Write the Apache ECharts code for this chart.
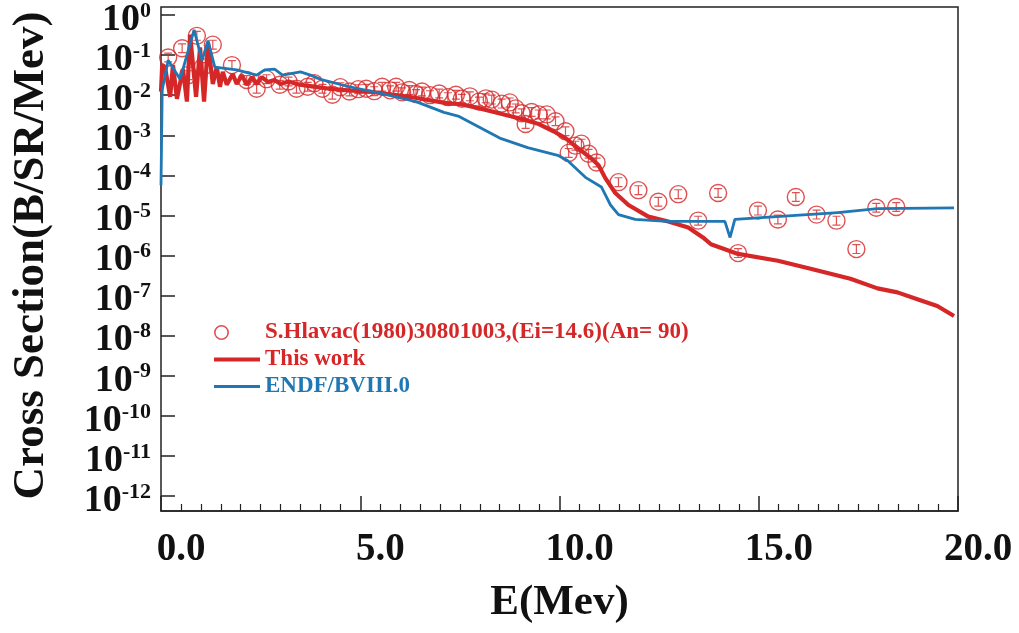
<!DOCTYPE html>
<html>
<head>
<meta charset="utf-8">
<script src="https://cdn.jsdelivr.net/npm/echarts@6/dist/echarts.min.js"></script>
<style>
html,body{margin:0;padding:0;background:#fff;}
#chart{width:1019px;height:633px;}
</style>
</head>
<body>
<div id="chart"></div>
<script>
// ---- Data (energies in MeV, values as log10 of cross section) ----
var expE = [0.18,0.53,0.9,1.3,0.68,1.05,1.78,2.15,2.4,2.65,2.98,3.2,3.4,3.68,3.85,4.05,4.3,4.5,4.73,4.95,5.15,5.35,5.55,5.75,5.9,6.05,6.23,6.4,6.55,6.75,6.98,7.2,7.4,7.55,7.75,7.98,8.15,8.3,8.55,8.75,8.9,9.05,9.15,9.3,9.48,9.68,9.9,10.15,10.23,10.4,10.55,10.73,10.93,
  11.48,11.98,12.48,12.98,13.48,13.98,14.48,14.98,15.48,15.93,16.45,16.95,17.45,17.95,18.45];
var expLog = [-1.06,-0.83,-0.52,-0.74,-1.50,-1.30,-1.25,-1.62,-1.84,-1.60,-1.74,-1.66,-1.84,-1.79,-1.70,-1.84,-1.99,-1.80,-1.91,-1.85,-1.84,-1.90,-1.79,-1.88,-1.79,-1.93,-1.87,-1.97,-1.91,-2.00,-1.96,-2.05,-1.99,-2.09,-2.03,-2.16,-2.08,-2.11,-2.21,-2.18,-2.33,-2.45,-2.72,-2.42,-2.48,-2.48,-2.65,-2.90,-3.44,-3.26,-3.21,-3.46,-3.68,
  -4.17,-4.37,-4.66,-4.47,-5.13,-4.44,-5.94,-4.88,-5.10,-4.54,-4.98,-5.13,-5.84,-4.81,-4.79];

var workE = [0.0,0.03,0.1,0.23,0.3,0.4,0.55,0.65,0.73,0.88,0.98,1.08,1.18,1.3,1.4,1.48,1.55,1.65,1.8,1.9,2.03,2.15,2.28,2.4,2.53,2.68,2.85,3.0,3.2,3.48,3.8,4.23,4.7,5.23,5.7,6.23,6.7,7.23,7.5,8.0,8.48,9.0,9.48,9.85,10.15,10.55,10.8,10.98,11.15,11.4,11.73,12.23,12.73,13.23,13.6,13.8,14.48,15.48,16.3,17.3,17.98,18.48,18.98,19.48,19.9];
var workLog = [-1.91,-1.25,-1.30,-2.04,-1.25,-2.09,-1.35,-2.16,-0.49,-2.04,-0.81,-2.16,-0.69,-1.72,-1.30,-1.79,-1.42,-1.74,-1.47,-1.72,-1.50,-1.74,-1.55,-1.72,-1.55,-1.67,-1.62,-1.72,-1.66,-1.74,-1.78,-1.84,-1.88,-1.91,-1.97,-2.04,-2.12,-2.21,-2.22,-2.33,-2.45,-2.58,-2.72,-2.90,-3.07,-3.39,-3.58,-3.75,-4.07,-4.44,-4.74,-5.03,-5.15,-5.30,-5.55,-5.72,-5.96,-6.13,-6.33,-6.58,-6.82,-6.92,-7.09,-7.26,-7.51];

var endfE = [0.0,0.03,0.18,0.48,0.83,1.03,1.18,1.35,1.4,1.9,2.4,2.6,2.85,3.05,3.5,3.75,4.05,4.73,5.55,6.4,7.1,7.48,8.5,9.2,9.98,10.2,10.65,11.05,11.28,11.48,11.9,12.7,14.15,14.28,14.4,16.98,17.98,19.9];
var endfLog = [-4.25,-1.87,-1.13,-1.60,-0.37,-1.13,-0.64,-1.30,-1.30,-1.37,-1.50,-1.37,-1.35,-1.50,-1.42,-1.50,-1.62,-1.79,-1.96,-2.16,-2.43,-2.53,-3.07,-3.31,-3.51,-3.63,-4.05,-4.29,-4.74,-4.98,-5.10,-5.15,-5.15,-5.55,-5.10,-4.93,-4.83,-4.81];

var xTicks = [0, 5, 10, 15, 20];
var yExponents = [0,-1,-2,-3,-4,-5,-6,-7,-8,-9,-10,-11,-12];
var legendNames = ['S.Hlavac(1980)30801003,(Ei=14.6)(An= 90)', 'This work', 'ENDF/BVIII.0'];

function pts(E, L) { return E.map(function (e, i) { return [e, Math.pow(10, L[i])]; }); }

var RED = '#d62728', BLUE = '#1f77b4';
var FONT = '"Liberation Serif", "Times New Roman", serif';

var chart = echarts.init(document.getElementById('chart'), null, {renderer: 'canvas'});
var ringIcon = 'path://M0,7.5A7.5,7.5 0 1,1 15,7.5A7.5,7.5 0 1,1 0,7.5Z M1.6,7.5A5.9,5.9 0 1,0 13.4,7.5A5.9,5.9 0 1,0 1.6,7.5Z M46,7.5h0.01v0.01h-0.01Z';
var ibeam = 'path://M0,0H8V1.2H4.6V8.8H8V10H0V8.8H3.4V1.2H0Z';
var yMinExp = yExponents[yExponents.length - 1], yMaxExp = yExponents[0];

chart.setOption({
  animation: false,
  backgroundColor: '#fff',
  grid: [
    {left: 161, right: 61, top: 7, bottom: 122, show: true, borderColor: '#222', borderWidth: 1.5},
    {left: 161, right: 61, top: 7, bottom: 137, show: false}
  ],
  legend: {
    orient: 'vertical', left: 209, top: 316, itemWidth: 46, itemHeight: 15, itemGap: 4,
    textStyle: {fontFamily: FONT, fontWeight: 'bold', fontSize: 23, lineHeight: 23},
    data: [
      {name: legendNames[0], icon: ringIcon, textStyle: {color: RED}, itemStyle: {color: RED, borderWidth: 0}},
      {name: legendNames[1], icon: 'path://M0,0H46V4.2H0Z', textStyle: {color: RED}, itemStyle: {color: RED}},
      {name: legendNames[2], icon: 'path://M0,0H46V2.8H0Z', textStyle: {color: BLUE}, itemStyle: {color: BLUE}}
    ]
  },
  xAxis: [{
    gridIndex: 0, type: 'value', min: xTicks[0], max: xTicks[xTicks.length - 1], interval: 5,
    name: 'E(Mev)', nameLocation: 'middle', nameGap: 70,
    nameTextStyle: {fontFamily: FONT, fontWeight: 'bold', fontSize: 43, color: '#111'},
    axisLine: {lineStyle: {color: '#222', width: 1.5}},
    axisTick: {inside: true, length: 15, lineStyle: {color: '#222', width: 1.5}},
    minorTick: {show: true, splitNumber: 10, length: 7, lineStyle: {color: '#222', width: 1.2}},
    splitLine: {show: false},
    axisLabel: {margin: 19, padding: [0, 0, 0, 40], fontFamily: FONT, fontWeight: 'bold', fontSize: 39, color: '#111',
      formatter: function (v) { return v.toFixed(1); }}
  }, {
    gridIndex: 1, type: 'value', min: xTicks[0], max: xTicks[xTicks.length - 1], show: false
  }],
  yAxis: [{
    gridIndex: 0, type: 'value', min: 0, max: 1, show: false
  }, {
    gridIndex: 1, type: 'log', logBase: 10, min: Math.pow(10, yMinExp), max: Math.pow(10, yMaxExp), interval: 1,
    name: 'Cross Section(B/SR/Mev)', nameLocation: 'middle', nameGap: 107,
    nameTextStyle: {fontFamily: FONT, fontWeight: 'bold', fontSize: 45, color: '#111'},
    axisLine: {show: false},
    axisTick: {inside: true, length: 14, lineStyle: {color: '#222', width: 1.5}},
    splitLine: {show: false},
    axisLabel: {
      margin: 10, color: '#111', showMinLabel: true, showMaxLabel: true,
      formatter: function (v) {
        var e = Math.round(Math.log10(v));
        if (Math.abs(Math.log10(v) - e) > 1e-6 || yExponents.indexOf(e) < 0) return '';
        return '{b|10}{s|' + e + '}';
      },
      rich: {
        b: {fontFamily: FONT, fontWeight: 'bold', fontSize: 38, color: '#111', padding: [10, 0, 0, 0]},
        s: {fontFamily: FONT, fontWeight: 'bold', fontSize: 22, color: '#111', padding: [0, 0, 8, 0]}
      }
    }
  }],
  series: [
    {
      name: legendNames[0], type: 'scatter', xAxisIndex: 1, yAxisIndex: 1, data: pts(expE, expLog),
      symbol: 'circle', symbolSize: 17,
      itemStyle: {color: 'rgba(255,255,255,0)', borderColor: RED, borderWidth: 1.4}, z: 2
    },
    {
      name: 'err', type: 'scatter', xAxisIndex: 1, yAxisIndex: 1, data: pts(expE, expLog), symbol: ibeam, symbolSize: [8, 10],
      itemStyle: {color: RED}, silent: true, z: 2
    },
    {
      name: legendNames[1], type: 'line', xAxisIndex: 1, yAxisIndex: 1, data: pts(workE, workLog), showSymbol: false, symbol: 'none',
      lineStyle: {color: RED, width: 4.2}, itemStyle: {color: RED}, z: 3
    },
    {
      name: legendNames[2], type: 'line', xAxisIndex: 1, yAxisIndex: 1, data: pts(endfE, endfLog), showSymbol: false, symbol: 'none',
      lineStyle: {color: BLUE, width: 2.8}, itemStyle: {color: BLUE}, z: 4
    }
  ]
});
</script>
</body>
</html>
